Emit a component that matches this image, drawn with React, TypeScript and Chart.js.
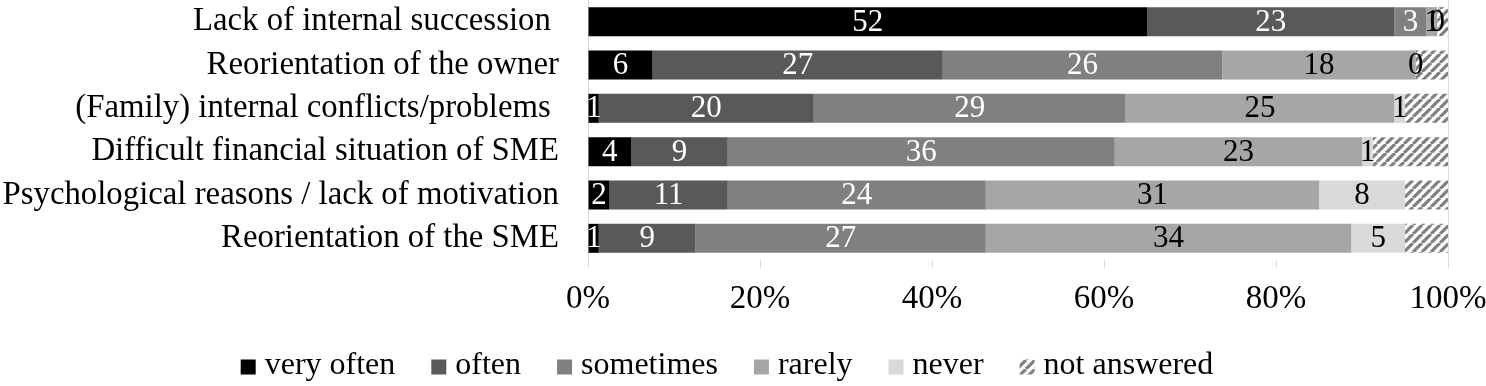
import React, { useEffect, useRef } from "react";
import { Chart, registerables } from "chart.js";

Chart.register(...registerables);

const categories = [
  "Lack of internal succession ",
  "Reorientation of the owner",
  "(Family) internal conflicts/problems ",
  "Difficult financial situation of SME",
  "Psychological reasons / lack of motivation",
  "Reorientation of the SME",
];
const seriesNames = ["very often", "often", "sometimes", "rarely", "never", "not answered"];
const veryOften = [52, 6, 1, 4, 2, 1];
const often = [23, 27, 20, 9, 11, 9];
const sometimes = [3, 26, 29, 36, 24, 27];
const rarely = [1, 18, 25, 23, 31, 34];
const never = [0, 0, 1, 1, 8, 5];
const notAnswered = [1, 3, 4, 7, 4, 4];
const xTickValues = [0, 20, 40, 60, 80, 100];

const FONT = "'Liberation Serif', 'Times New Roman', serif";

function makeHatch(): CanvasPattern | string {
  const c = document.createElement("canvas");
  const s = 9;
  c.width = s;
  c.height = s;
  const ctx = c.getContext("2d");
  if (!ctx) return "#808080";
  ctx.fillStyle = "#ffffff";
  ctx.fillRect(0, 0, s, s);
  ctx.strokeStyle = "#808080";
  ctx.lineWidth = 3.2;
  ctx.beginPath();
  for (const off of [-s, 0, s]) {
    ctx.moveTo(off, s);
    ctx.lineTo(off + s, 0);
  }
  ctx.stroke();
  const p = ctx.createPattern(c, "repeat");
  return p || "#808080";
}

export default function App() {
  const ref = useRef<HTMLCanvasElement | null>(null);

  useEffect(() => {
    const canvas = ref.current;
    if (!canvas) return;
    const series = [veryOften, often, sometimes, rarely, never, notAnswered];
    const totals = categories.map((_, i) => series.reduce((a, s) => a + s[i], 0));
    const colors: (string | CanvasPattern)[] = ["#000000", "#595959", "#808080", "#a6a6a6", "#d9d9d9", makeHatch()];
    const labelColors = ["#ffffff", "#ffffff", "#ffffff", "#000000", "#000000"];

    const datasets = series.map((s, k) => ({
      label: seriesNames[k],
      data: s.map((v, i) => (v / totals[i]) * 100),
      backgroundColor: colors[k],
      borderWidth: 0,
      categoryPercentage: 1,
      barPercentage: 0.67,
    }));

    const valueLabels = {
      id: "valueLabels",
      afterDatasetsDraw(chart: any) {
        const ctx = chart.ctx;
        ctx.save();
        ctx.font = `31px ${FONT}`;
        ctx.textAlign = "center";
        ctx.textBaseline = "middle";
        for (let k = 0; k < 5; k++) {
          const meta = chart.getDatasetMeta(k);
          meta.data.forEach((el: any, i: number) => {
            const p = el.getProps(["x", "y", "base"], true);
            const cx = (p.x + p.base) / 2;
            ctx.fillStyle = labelColors[k];
            ctx.fillText(String(series[k][i]), cx, p.y + 1);
          });
        }
        ctx.restore();
      },
    };

    const frame = {
      id: "frame",
      afterDatasetsDraw(chart: any) {
        const { ctx, chartArea } = chart;
        ctx.save();
        ctx.strokeStyle = "#d9d9d9";
        ctx.lineWidth = 1;
        ctx.beginPath();
        ctx.moveTo(Math.round(chartArea.right) + 0.5, chartArea.top);
        ctx.lineTo(Math.round(chartArea.right) + 0.5, chartArea.bottom + 2);
        ctx.stroke();
        ctx.restore();
      },
    };

    const customLegend = {
      id: "customLegend",
      afterDraw(chart: any) {
        const ctx = chart.ctx;
        ctx.save();
        ctx.font = `32px ${FONT}`;
        const box = 15;
        const gapText = 9;
        const gapItem = 36;
        const widths = seriesNames.map((n) => box + gapText + ctx.measureText(n).width);
        const total = widths.reduce((a, b) => a + b, 0) + gapItem * (widths.length - 1);
        let x = 727 - total / 2;
        const cy = 367;
        ctx.textBaseline = "middle";
        ctx.textAlign = "left";
        seriesNames.forEach((n, k) => {
          ctx.fillStyle = colors[k] as any;
          ctx.fillRect(x, cy - box / 2, box, box);
          ctx.fillStyle = "#000000";
          ctx.fillText(n, x + box + gapText, cy - 1);
          x += widths[k] + gapItem;
        });
        ctx.restore();
      },
    };

    const chart = new Chart(canvas, {
      type: "bar",
      data: { labels: categories, datasets: datasets as any },
      plugins: [valueLabels, frame, customLegend],
      options: {
        indexAxis: "y",
        responsive: false,
        animation: false,
        layout: { padding: { left: 0, right: 38, top: 0, bottom: 70 } },
        scales: {
          x: {
            stacked: true,
            min: 0,
            max: 100,
            afterBuildTicks(scale: any) {
              scale.ticks = xTickValues.map((v) => ({ value: v }));
            },
            afterFit(scale: any) {
              scale.height = 56;
              scale.paddingLeft = 0;
              scale.paddingRight = 0;
            },
            ticks: {
              callback: (v: any) => `${v}%`,
              color: "#000000",
              font: { family: FONT, size: 33 },
              padding: 12,
              maxRotation: 0,
              autoSkip: false,
            },
            grid: {
              drawOnChartArea: false,
              drawTicks: true,
              tickLength: 8,
              color: "#d9d9d9",
            },
            border: { display: false },
          },
          y: {
            stacked: true,
            afterFit(scale: any) {
              scale.width = 588;
              scale.paddingTop = 0;
              scale.paddingBottom = 0;
            },
            ticks: {
              color: "#000000",
              font: { family: FONT, size: 32.8 },
              padding: 21,
              autoSkip: false,
            },
            grid: { display: false },
            border: { display: true, color: "#d9d9d9" },
          },
        },
        plugins: {
          legend: { display: false },
          tooltip: { enabled: false },
        },
      },
    });
    return () => chart.destroy();
  }, []);

  return (
    <div style={{ position: "fixed", left: 0, top: 0, width: 1486, height: 386, background: "#ffffff" }}>
      <canvas ref={ref} width={1486} height={386} style={{ display: "block", width: 1486, height: 386 }} />
    </div>
  );
}
